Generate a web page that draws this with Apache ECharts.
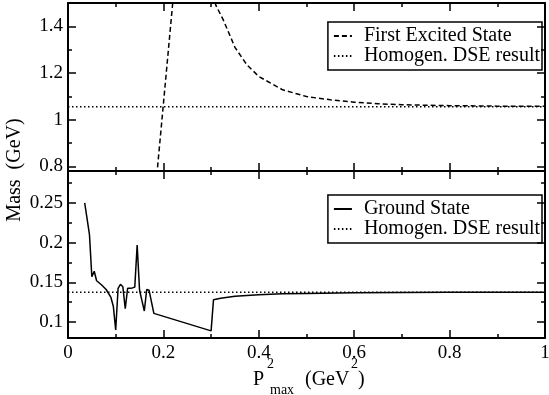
<!DOCTYPE html>
<html>
<head>
<meta charset="utf-8">
<script src="https://cdn.jsdelivr.net/npm/echarts@6/dist/echarts.min.js"></script>
<style>
  html, body { margin: 0; padding: 0; background: #fff; }
  #chart { width: 549px; height: 395px; }
</style>
</head>
<body>
<div id="chart"></div>
<script>
// x: P^2_max (GeV^2)
const excitedX = [0.18, 0.22, 0.30, 0.31, 0.325, 0.35, 0.375, 0.40, 0.45, 0.50, 0.55, 0.60, 0.65, 0.70, 0.80, 0.90, 1.00]
const excitedY = [0.625, 1.51, 1.57, 1.49, 1.43, 1.31, 1.235, 1.185, 1.128, 1.099, 1.085, 1.075, 1.068, 1.064, 1.060, 1.058, 1.057]

const groundX = [0.035, 0.045, 0.05, 0.055, 0.06, 0.07, 0.08, 0.09, 0.095, 0.10, 0.105, 0.11, 0.115, 0.12, 0.125, 0.13, 0.135, 0.14,
  0.145, 0.15, 0.155, 0.16, 0.165, 0.17, 0.18, 0.30, 0.305, 0.32, 0.35, 0.40, 0.45, 0.50, 0.60, 0.70, 0.80, 0.90, 1.00]
const groundY = [0.25, 0.21, 0.157, 0.164, 0.152, 0.147, 0.141, 0.131, 0.12, 0.09, 0.1425, 0.1475, 0.1445, 0.117, 0.1425, 0.1425, 0.143, 0.144,
  0.197, 0.140, 0.127, 0.114, 0.141, 0.140, 0.111, 0.089, 0.128, 0.130, 0.1325, 0.1345, 0.1355, 0.136, 0.137, 0.1372, 0.1374, 0.1375, 0.1375]

const dseX = [0, 1]
const dseExcited = 1.055
const dseGround = 0.1375

const topTicks = [0.8, 1, 1.2, 1.4]
const topMinor = [0.9, 1.1, 1.3]
const bottomTicks = [0.1, 0.15, 0.2, 0.25]
const bottomMinor = [0.125, 0.175, 0.225, 0.275]

const font = 'Liberation Serif'
const black = '#000'

const pairs = (xs, ys) => xs.map((x, i) => [x, ys[i]])
const flat = (xs, v) => xs.map(x => [x, v])

const chart = echarts.init(document.getElementById('chart'), null, { renderer: 'canvas' })

const xAxisFor = (gridIndex, position, labels) => ({
  type: 'value',
  gridIndex,
  position,
  min: 0,
  max: 1,
  interval: 0.2,
  axisLine: { show: true, onZero: false, lineStyle: { color: black, width: 2 } },
  axisTick: { show: true, inside: true, length: 8, lineStyle: { color: black, width: 1.5 } },
  minorTick: { show: true, splitNumber: 2, length: 4, lineStyle: { color: black, width: 1.5 } },
  axisLabel: { show: labels, color: black, fontFamily: font, fontSize: 19, margin: 6 },
  splitLine: { show: false }
})

const yAxisFor = (gridIndex, position, min, max, ticks, len, labels, line) => ({
  type: 'value',
  gridIndex,
  position,
  min,
  max,
  axisLine: { show: line, onZero: false, lineStyle: { color: black, width: 2 } },
  axisTick: { show: true, inside: true, length: len, customValues: ticks, lineStyle: { color: black, width: 1.5 } },
  axisLabel: { show: labels, customValues: ticks, color: black, fontFamily: font, fontSize: 19, margin: 5 },
  splitLine: { show: false }
})

const legendFor = (top, names) => ({
  data: names,
  orient: 'vertical',
  right: 7,
  top,
  padding: [4, 2, 4, 5],
  itemWidth: 18,
  itemHeight: 10,
  itemGap: 0,
  selectedMode: false,
  itemStyle: { opacity: 0 },
  borderColor: black,
  borderWidth: 1.5,
  borderRadius: 0,
  textStyle: { color: black, fontFamily: font, fontSize: 20, padding: [0, 0, 0, 7] }
})

const option = {
  animation: false,
  backgroundColor: '#fff',
  color: [black],
  grid: [
    { left: 68, right: 4, top: 3, height: 168, outerBoundsMode: 'none' },
    { left: 68, right: 4, top: 171, height: 167, outerBoundsMode: 'none' }
  ],
  xAxis: [
    xAxisFor(0, 'bottom', false),
    xAxisFor(0, 'top', false),
    xAxisFor(1, 'bottom', true),
    xAxisFor(1, 'top', false)
  ],
  yAxis: [
    yAxisFor(0, 'left', 0.78, 1.5, topTicks, 8, true, true),
    yAxisFor(0, 'left', 0.78, 1.5, topMinor, 4, false, false),
    yAxisFor(0, 'right', 0.78, 1.5, topTicks, 8, false, true),
    yAxisFor(0, 'right', 0.78, 1.5, topMinor, 4, false, false),
    yAxisFor(1, 'left', 0.08, 0.29, bottomTicks, 8, true, true),
    yAxisFor(1, 'left', 0.08, 0.29, bottomMinor, 4, false, false),
    yAxisFor(1, 'right', 0.08, 0.29, bottomTicks, 8, false, true),
    yAxisFor(1, 'right', 0.08, 0.29, bottomMinor, 4, false, false)
  ],
  legend: [
    legendFor(22, ['First Excited State', 'Homogen. DSE result']),
    legendFor(195, ['Ground State', 'Homogen. DSE result'])
  ],
  series: [
    {
      name: 'First Excited State',
      type: 'line',
      xAxisIndex: 0,
      yAxisIndex: 0,
      symbol: 'none',
      clip: true,
      itemStyle: { color: black },
      lineStyle: { color: black, width: 1.5, type: [5, 3] },
      data: pairs(excitedX, excitedY)
    },
    {
      name: 'Homogen. DSE result',
      type: 'line',
      xAxisIndex: 0,
      yAxisIndex: 0,
      symbol: 'none',
      itemStyle: { color: black },
      lineStyle: { color: black, width: 1.5, type: [1.5, 2.5] },
      data: flat(dseX, dseExcited)
    },
    {
      name: 'Ground State',
      type: 'line',
      xAxisIndex: 2,
      yAxisIndex: 4,
      symbol: 'none',
      clip: true,
      itemStyle: { color: black },
      lineStyle: { color: black, width: 1.5 },
      data: pairs(groundX, groundY)
    },
    {
      name: 'Homogen. DSE result',
      type: 'line',
      xAxisIndex: 2,
      yAxisIndex: 4,
      symbol: 'none',
      itemStyle: { color: black },
      lineStyle: { color: black, width: 1.5, type: [1.5, 2.5] },
      data: flat(dseX, dseGround)
    }
  ],
  graphic: [
    {
      type: 'text', x: 15, y: 170, rotation: Math.PI / 2,
      style: { text: 'Mass  (GeV)', font: '20px "Liberation Serif"', fill: black, align: 'center', verticalAlign: 'middle' }
    },
    { type: 'text', x: 253, y: 380, style: { text: 'P', font: '20px "Liberation Serif"', fill: black, verticalAlign: 'middle' } },
    { type: 'text', x: 267, y: 364, style: { text: '2', font: '14px "Liberation Serif"', fill: black, verticalAlign: 'middle' } },
    { type: 'text', x: 270, y: 390, style: { text: 'max', font: '14px "Liberation Serif"', fill: black, verticalAlign: 'middle' } },
    { type: 'text', x: 305, y: 380, style: { text: '(GeV', font: '20px "Liberation Serif"', fill: black, verticalAlign: 'middle' } },
    { type: 'text', x: 351, y: 364, style: { text: '2', font: '14px "Liberation Serif"', fill: black, verticalAlign: 'middle' } },
    { type: 'text', x: 358, y: 380, style: { text: ')', font: '20px "Liberation Serif"', fill: black, verticalAlign: 'middle' } }
  ]
}

chart.setOption(option)
</script>
</body>
</html>
